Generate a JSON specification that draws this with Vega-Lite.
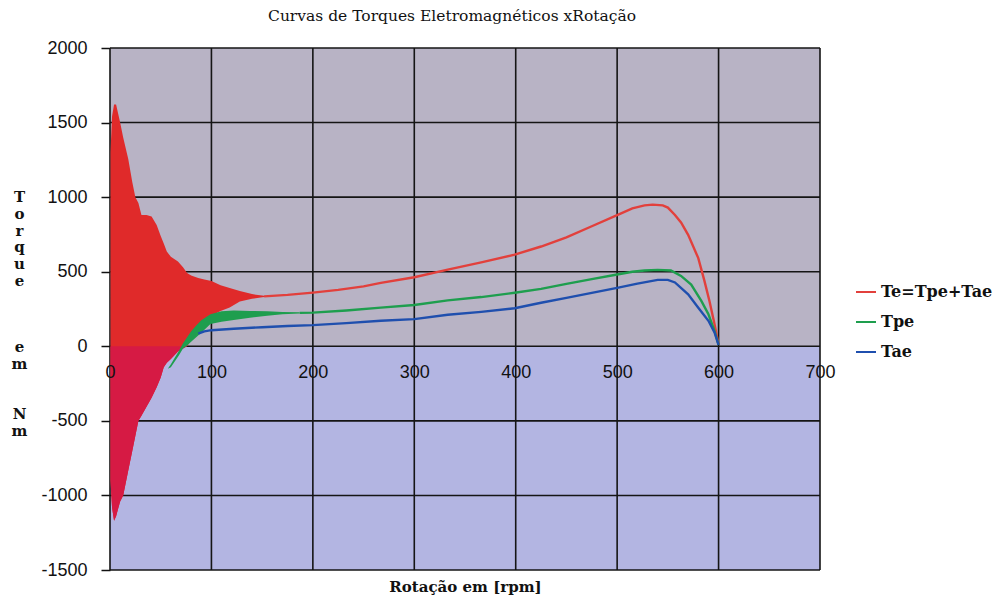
{
  "$schema": "https://vega.github.io/schema/vega-lite/v6.json",
  "width": 710,
  "height": 522,
  "autosize": {"type": "none"},
  "padding": {"left": 110, "top": 48, "right": 179, "bottom": 31},
  "background": "white",
  "config": {"view": {"stroke": null}},
  "title": {
    "text": "Curvas de Torques Eletromagnéticos xRotação",
    "font": "DejaVu Serif",
    "fontSize": 15.5,
    "fontWeight": "normal",
    "color": "#111111",
    "anchor": "middle",
    "dx": -13,
    "offset": 15
  },
  "datasets": {
    "zone_pos": [{"lo": 0, "hi": 2000}],
    "zone_neg": [{"lo": -1500, "hi": 0}],
    "gridx": [
      {"rpm": 0}, {"rpm": 100}, {"rpm": 200}, {"rpm": 300},
      {"rpm": 400}, {"rpm": 500}, {"rpm": 600}, {"rpm": 700}
    ],
    "gridy": [
      {"torque": -1500}, {"torque": -1000}, {"torque": -500}, {"torque": 0},
      {"torque": 500}, {"torque": 1000}, {"torque": 1500}, {"torque": 2000}
    ],
    "te_band": [
      {"rpm": 0.5, "lo": -900, "hi": 1300},
      {"rpm": 2, "lo": -1080, "hi": 1540},
      {"rpm": 4, "lo": -1169, "hi": 1621},
      {"rpm": 6, "lo": -1140, "hi": 1621},
      {"rpm": 8, "lo": -1090, "hi": 1560},
      {"rpm": 10, "lo": -1040, "hi": 1500},
      {"rpm": 13, "lo": -1000, "hi": 1400},
      {"rpm": 18, "lo": -833, "hi": 1256},
      {"rpm": 22, "lo": -700, "hi": 1100},
      {"rpm": 25, "lo": -600, "hi": 1000},
      {"rpm": 28, "lo": -500, "hi": 960},
      {"rpm": 31, "lo": -465, "hi": 880},
      {"rpm": 36, "lo": -405, "hi": 880},
      {"rpm": 41, "lo": -345, "hi": 870},
      {"rpm": 46, "lo": -275, "hi": 813},
      {"rpm": 50, "lo": -210, "hi": 740},
      {"rpm": 53, "lo": -140, "hi": 690},
      {"rpm": 56, "lo": -110, "hi": 636},
      {"rpm": 60, "lo": -85, "hi": 600},
      {"rpm": 67, "lo": -35, "hi": 569},
      {"rpm": 72, "lo": -15, "hi": 530},
      {"rpm": 76, "lo": 0, "hi": 492},
      {"rpm": 80, "lo": 40, "hi": 475},
      {"rpm": 87, "lo": 120, "hi": 458},
      {"rpm": 93, "lo": 180, "hi": 447},
      {"rpm": 100, "lo": 205, "hi": 437},
      {"rpm": 109, "lo": 237, "hi": 410},
      {"rpm": 118, "lo": 260, "hi": 390},
      {"rpm": 128, "lo": 300, "hi": 370},
      {"rpm": 140, "lo": 318, "hi": 350},
      {"rpm": 150, "lo": 328, "hi": 340},
      {"rpm": 155, "lo": 332, "hi": 336}
    ],
    "te_neg": [
      {"rpm": 0.5, "lo": -900},
      {"rpm": 2, "lo": -1080},
      {"rpm": 4, "lo": -1169},
      {"rpm": 6, "lo": -1140},
      {"rpm": 8, "lo": -1090},
      {"rpm": 10, "lo": -1040},
      {"rpm": 13, "lo": -1000},
      {"rpm": 18, "lo": -833},
      {"rpm": 22, "lo": -700},
      {"rpm": 25, "lo": -600},
      {"rpm": 28, "lo": -500},
      {"rpm": 31, "lo": -465},
      {"rpm": 36, "lo": -405},
      {"rpm": 41, "lo": -345},
      {"rpm": 46, "lo": -275},
      {"rpm": 50, "lo": -210},
      {"rpm": 53, "lo": -140},
      {"rpm": 56, "lo": -110},
      {"rpm": 60, "lo": -85},
      {"rpm": 67, "lo": -35},
      {"rpm": 72, "lo": -15},
      {"rpm": 76, "lo": 0}
    ],
    "tpe_band": [
      {"rpm": 57, "lo": -150, "hi": -150},
      {"rpm": 60, "lo": -140, "hi": -120},
      {"rpm": 64, "lo": -100, "hi": -75},
      {"rpm": 68, "lo": -60, "hi": -30},
      {"rpm": 72, "lo": -15, "hi": 20},
      {"rpm": 76, "lo": 5, "hi": 60},
      {"rpm": 80, "lo": 30, "hi": 100},
      {"rpm": 85, "lo": 60, "hi": 140},
      {"rpm": 90, "lo": 90, "hi": 175},
      {"rpm": 99, "lo": 150, "hi": 215},
      {"rpm": 110, "lo": 165, "hi": 235},
      {"rpm": 122, "lo": 177, "hi": 240},
      {"rpm": 138, "lo": 192, "hi": 237},
      {"rpm": 155, "lo": 204, "hi": 235},
      {"rpm": 170, "lo": 214, "hi": 230},
      {"rpm": 187, "lo": 220, "hi": 228}
    ],
    "curves": [
      {"series": "Te=Tpe+Tae", "rpm": 152, "torque": 335},
      {"series": "Te=Tpe+Tae", "rpm": 175, "torque": 345},
      {"series": "Te=Tpe+Tae", "rpm": 200, "torque": 360},
      {"series": "Te=Tpe+Tae", "rpm": 225, "torque": 378},
      {"series": "Te=Tpe+Tae", "rpm": 250, "torque": 402},
      {"series": "Te=Tpe+Tae", "rpm": 267, "torque": 425},
      {"series": "Te=Tpe+Tae", "rpm": 300, "torque": 463},
      {"series": "Te=Tpe+Tae", "rpm": 333, "torque": 514},
      {"series": "Te=Tpe+Tae", "rpm": 366, "torque": 563},
      {"series": "Te=Tpe+Tae", "rpm": 399, "torque": 614},
      {"series": "Te=Tpe+Tae", "rpm": 425, "torque": 669},
      {"series": "Te=Tpe+Tae", "rpm": 450, "torque": 730},
      {"series": "Te=Tpe+Tae", "rpm": 475, "torque": 805},
      {"series": "Te=Tpe+Tae", "rpm": 500, "torque": 880},
      {"series": "Te=Tpe+Tae", "rpm": 515, "torque": 925},
      {"series": "Te=Tpe+Tae", "rpm": 527, "torque": 945},
      {"series": "Te=Tpe+Tae", "rpm": 535, "torque": 950},
      {"series": "Te=Tpe+Tae", "rpm": 545, "torque": 945},
      {"series": "Te=Tpe+Tae", "rpm": 550, "torque": 930},
      {"series": "Te=Tpe+Tae", "rpm": 557, "torque": 880},
      {"series": "Te=Tpe+Tae", "rpm": 563, "torque": 830},
      {"series": "Te=Tpe+Tae", "rpm": 570, "torque": 747},
      {"series": "Te=Tpe+Tae", "rpm": 580, "torque": 591},
      {"series": "Te=Tpe+Tae", "rpm": 586, "torque": 440},
      {"series": "Te=Tpe+Tae", "rpm": 591, "torque": 304},
      {"series": "Te=Tpe+Tae", "rpm": 596, "torque": 149},
      {"series": "Te=Tpe+Tae", "rpm": 598, "torque": 80},
      {"series": "Te=Tpe+Tae", "rpm": 600, "torque": 10},
      {"series": "Tpe", "rpm": 187, "torque": 224},
      {"series": "Tpe", "rpm": 200, "torque": 226},
      {"series": "Tpe", "rpm": 233, "torque": 240},
      {"series": "Tpe", "rpm": 267, "torque": 259},
      {"series": "Tpe", "rpm": 300, "torque": 277},
      {"series": "Tpe", "rpm": 333, "torque": 308},
      {"series": "Tpe", "rpm": 366, "torque": 330},
      {"series": "Tpe", "rpm": 399, "torque": 359},
      {"series": "Tpe", "rpm": 425, "torque": 385},
      {"series": "Tpe", "rpm": 450, "torque": 418},
      {"series": "Tpe", "rpm": 475, "torque": 450},
      {"series": "Tpe", "rpm": 500, "torque": 481},
      {"series": "Tpe", "rpm": 515, "torque": 500},
      {"series": "Tpe", "rpm": 527, "torque": 508},
      {"series": "Tpe", "rpm": 540, "torque": 512},
      {"series": "Tpe", "rpm": 553, "torque": 508},
      {"series": "Tpe", "rpm": 563, "torque": 472},
      {"series": "Tpe", "rpm": 573, "torque": 414},
      {"series": "Tpe", "rpm": 583, "torque": 304},
      {"series": "Tpe", "rpm": 590, "torque": 215},
      {"series": "Tpe", "rpm": 596, "torque": 104},
      {"series": "Tpe", "rpm": 600, "torque": 10},
      {"series": "Tae", "rpm": 87, "torque": 85},
      {"series": "Tae", "rpm": 93, "torque": 100},
      {"series": "Tae", "rpm": 100, "torque": 108},
      {"series": "Tae", "rpm": 122, "torque": 118},
      {"series": "Tae", "rpm": 150, "torque": 128},
      {"series": "Tae", "rpm": 175, "torque": 136},
      {"series": "Tae", "rpm": 200, "torque": 142},
      {"series": "Tae", "rpm": 233, "torque": 155},
      {"series": "Tae", "rpm": 267, "torque": 171},
      {"series": "Tae", "rpm": 300, "torque": 182},
      {"series": "Tae", "rpm": 333, "torque": 211},
      {"series": "Tae", "rpm": 366, "torque": 231},
      {"series": "Tae", "rpm": 399, "torque": 255},
      {"series": "Tae", "rpm": 425, "torque": 292},
      {"series": "Tae", "rpm": 450, "torque": 325},
      {"series": "Tae", "rpm": 475, "torque": 358},
      {"series": "Tae", "rpm": 500, "torque": 392},
      {"series": "Tae", "rpm": 520, "torque": 420},
      {"series": "Tae", "rpm": 540, "torque": 445},
      {"series": "Tae", "rpm": 550, "torque": 445},
      {"series": "Tae", "rpm": 557, "torque": 428},
      {"series": "Tae", "rpm": 570, "torque": 348},
      {"series": "Tae", "rpm": 580, "torque": 259},
      {"series": "Tae", "rpm": 590, "torque": 171},
      {"series": "Tae", "rpm": 596, "torque": 93},
      {"series": "Tae", "rpm": 600, "torque": 10}
    ]
  },
  "layer": [
    {
      "data": {"name": "zone_pos"},
      "mark": {"type": "rect", "color": "#b8b3c5"},
      "encoding": {
        "x": {
          "datum": 0,
          "type": "quantitative",
          "scale": {"domain": [0, 700], "nice": false, "zero": false},
          "axis": {
            "orient": "bottom",
            "offset": -223.7,
            "zindex": 1,
            "values": [0, 100, 200, 300, 400, 500, 600, 700],
            "grid": false,
            "domain": false,
            "ticks": false,
            "labelFlush": false,
            "labelPadding": 17,
            "labelFont": "Liberation Sans",
            "labelFontSize": 18,
            "labelColor": "#111111",
            "labelExpr": "'' + datum.value",
            "title": "Rotação em [rpm]",
            "titleFont": "DejaVu Serif",
            "titleFontSize": 15,
            "titleFontWeight": "bold",
            "titleColor": "#111111",
            "titleBaseline": "alphabetic",
            "titleY": 245
          }
        },
        "x2": {"datum": 700},
        "y": {
          "field": "lo",
          "type": "quantitative",
          "scale": {"domain": [-1500, 2000], "nice": false, "zero": false},
          "axis": {
            "orient": "left",
            "values": [-1500, -1000, -500, 0, 500, 1000, 1500, 2000],
            "grid": false,
            "domain": false,
            "ticks": true,
            "tickSize": 9,
            "tickWidth": 1.5,
            "tickColor": "#111111",
            "labelFlush": false,
            "labelPadding": 14,
            "labelFont": "Liberation Sans",
            "labelFontSize": 18,
            "labelColor": "#111111",
            "labelExpr": "'' + datum.value",
            "title": ["T", "o", "r", "q", "u", "e", "\u2800", "\u2800", "\u2800", "e", "m", "\u2800", "\u2800", "N", "m"],
            "titleAngle": 0,
            "titleFont": "DejaVu Serif",
            "titleFontSize": 15,
            "titleFontWeight": "bold",
            "titleColor": "#111111",
            "titleLineHeight": 16.7,
            "titleAlign": "center",
            "titleBaseline": "alphabetic",
            "titleX": -91,
            "titleY": 153.7
          }
        },
        "y2": {"field": "hi"}
      }
    },
    {
      "data": {"name": "zone_neg"},
      "mark": {"type": "rect", "color": "#b3b5e2"},
      "encoding": {
        "x": {"datum": 0},
        "x2": {"datum": 700},
        "y": {"field": "lo", "type": "quantitative"},
        "y2": {"field": "hi"}
      }
    },
    {
      "data": {"name": "gridx"},
      "mark": {"type": "rule", "color": "#151515", "strokeWidth": 1.6},
      "encoding": {
        "x": {"field": "rpm", "type": "quantitative"},
        "y": {"datum": -1500},
        "y2": {"datum": 2000}
      }
    },
    {
      "data": {"name": "gridy"},
      "mark": {"type": "rule", "color": "#151515", "strokeWidth": 1.6},
      "encoding": {
        "y": {"field": "torque", "type": "quantitative"},
        "x": {"datum": 0},
        "x2": {"datum": 700}
      }
    },
    {
      "data": {"name": "te_band"},
      "mark": {"type": "area", "color": "#e02a2a", "opacity": 1},
      "encoding": {
        "x": {"field": "rpm", "type": "quantitative"},
        "y": {"field": "hi", "type": "quantitative"},
        "y2": {"field": "lo"}
      }
    },
    {
      "data": {"name": "te_neg"},
      "mark": {"type": "area", "color": "#d61a44", "opacity": 1},
      "encoding": {
        "x": {"field": "rpm", "type": "quantitative"},
        "y": {"field": "lo", "type": "quantitative"},
        "y2": {"datum": 0}
      }
    },
    {
      "data": {"name": "tpe_band"},
      "mark": {"type": "area", "color": "#1e9e4e", "opacity": 1},
      "encoding": {
        "x": {"field": "rpm", "type": "quantitative"},
        "y": {"field": "hi", "type": "quantitative"},
        "y2": {"field": "lo"}
      }
    },
    {
      "data": {"name": "curves"},
      "mark": {"type": "line", "strokeWidth": 2.4},
      "encoding": {
        "x": {"field": "rpm", "type": "quantitative"},
        "y": {"field": "torque", "type": "quantitative"},
        "color": {
          "field": "series",
          "type": "nominal",
          "scale": {
            "domain": ["Te=Tpe+Tae", "Tpe", "Tae"],
            "range": ["#e2403c", "#1e9e4e", "#1f4fae"]
          },
          "legend": {
            "orient": "none",
            "legendX": 745,
            "legendY": 233,
            "title": null,
            "padding": 0,
            "symbolType": "stroke",
            "symbolSize": 400,
            "symbolStrokeWidth": 2,
            "labelFont": "DejaVu Serif",
            "labelFontSize": 16,
            "labelFontWeight": "bold",
            "labelColor": "#111111",
            "labelOffset": 4,
            "rowPadding": 11
          }
        }
      }
    }
  ]
}
